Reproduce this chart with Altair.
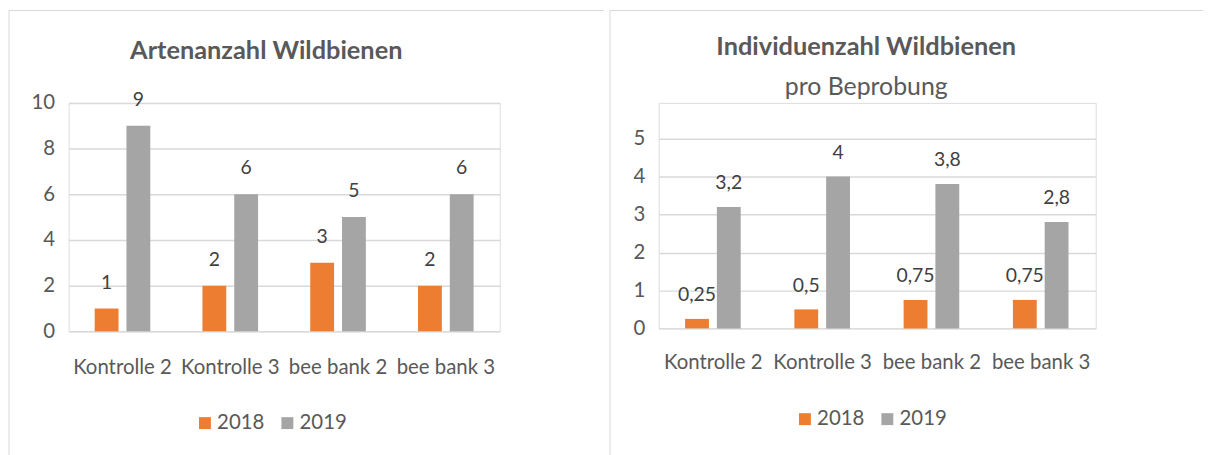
import altair as alt
import pandas as pd

categories = ["Kontrolle 2", "Kontrolle 3", "bee bank 2", "bee bank 3"]
years = ["2018", "2019"]
arten_2018 = [1, 2, 3, 2]
arten_2019 = [9, 6, 5, 6]
indiv_2018 = [0.25, 0.5, 0.75, 0.75]
indiv_2019 = [3.2, 4, 3.8, 2.8]

FONT = "Lato"
ORANGE = "#ED7D31"
GRAY = "#A5A5A5"
TXT = "#595959"
LINE = "#D9D9D9"


def make_df(v18, v19):
    rows = []
    for c, a, b in zip(categories, v18, v19):
        rows.append({"cat": c, "year": "2018", "value": a})
        rows.append({"cat": c, "year": "2019", "value": b})
    df = pd.DataFrame(rows)
    df["label"] = df["value"].map(lambda v: f"{v:g}".replace(".", ","))
    return df


def frame_lines(x0, x1, y0, y1):
    one = pd.DataFrame({"k": [0]})
    top = alt.Chart(one).mark_rule(stroke=LINE, strokeWidth=1).encode(
        x=alt.value(x0), x2=alt.value(x1), y=alt.value(y0))
    side = alt.Chart(one).mark_rule(stroke=LINE, strokeWidth=1).encode(
        x=alt.value(x0), y=alt.value(y0), y2=alt.value(y1))
    return [top, side]


def panel(df, w, h, ydom, ymax, ystep, title_kw, frame, legxy, label_dy, xpad):
    x = alt.X("cat:N", sort=categories, title=None,
              scale=alt.Scale(paddingInner=0.484, paddingOuter=0.242),
              axis=alt.Axis(labelAngle=0, domain=False, ticks=False, labelPadding=xpad,
                            labelFontSize=20.5, labelColor=TXT, labelFont=FONT,
                            labelBaseline="top"))
    xo = alt.XOffset("year:N", sort=years, scale=alt.Scale(paddingInner=0.25, paddingOuter=0))
    y = alt.Y("value:Q", title=None, scale=alt.Scale(domain=[0, ydom], nice=False),
              axis=alt.Axis(values=list(range(0, ymax + 1, ystep)), domain=False, ticks=False,
                            gridColor=LINE, gridWidth=1.5, labelFontSize=20.5,
                            labelColor=TXT, labelPadding=14, labelFont=FONT))
    color = alt.Color("year:N", sort=years,
                      scale=alt.Scale(domain=years, range=[ORANGE, GRAY]),
                      legend=alt.Legend(title=None, orient="none", legendX=legxy[0], legendY=legxy[1],
                                        direction="horizontal", symbolType="square", symbolSize=144,
                                        symbolStrokeWidth=0, labelFontSize=20.5, labelColor=TXT,
                                        labelFont=FONT, columnPadding=12, labelOffset=2, padding=0))
    base = alt.Chart(df)
    bars = base.mark_bar().encode(x=x, xOffset=xo, y=y, color=color)
    text = base.mark_text(baseline="alphabetic", dy=label_dy, fontSize=19.5, color="#404040",
                          font=FONT).encode(x=x, xOffset=xo, y=y, text="label:N")
    return alt.layer(*frame_lines(*frame), bars, text).properties(
        width=w, height=h, title=alt.TitleParams(**title_kw)
    )


left_title = dict(text="Artenanzahl Wildbienen", fontSize=25.5, font=FONT, fontWeight="bold",
                  color=TXT, anchor="middle", dx=-18, offset=-55)
right_title = dict(text="Individuenzahl Wildbienen", subtitle="pro Beprobung", fontSize=25.5,
                   font=FONT, fontWeight="bold", color=TXT, subtitleFontSize=25,
                   subtitleFont=FONT, subtitleColor=TXT, subtitleFontWeight="normal",
                   subtitlePadding=15, anchor="middle", dx=-11, offset=-91)

left = panel(make_df(arten_2018, arten_2019), 434, 230, 10, 10, 2, left_title,
             (-60, 539, -93, 360), (127, 312), -20, 26)
right = panel(make_df(indiv_2018, indiv_2019), 440, 227, 5.94, 5, 1, right_title,
              (-49, 548, -93, 360), (137, 308), -18, 24)

chart = alt.hconcat(left, right, spacing=4).resolve_scale(
    color="independent"
).properties(padding=0).configure_view(strokeWidth=0).configure(background="white")

chart.save("out.html", embed_options={"renderer": "svg", "actions": False})
